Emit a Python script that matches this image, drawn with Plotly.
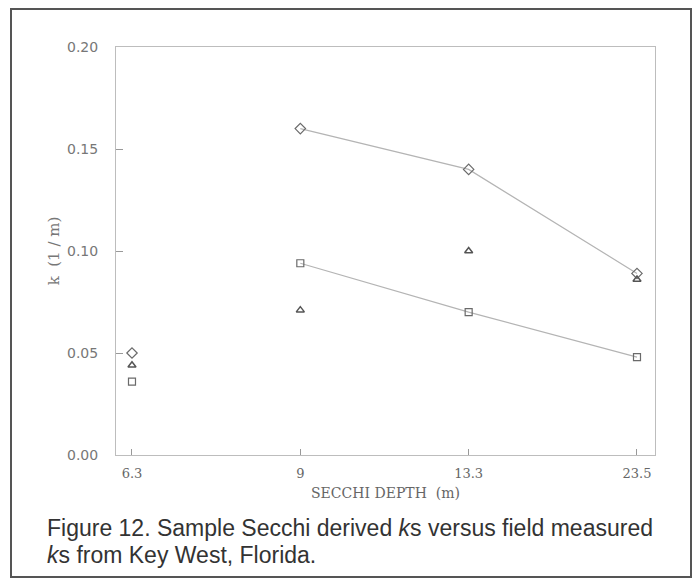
import plotly.graph_objects as go

categories = ["6.3", "9", "13.3", "23.5"]
k_diamond = [0.050, 0.160, 0.140, 0.089]
k_square = [0.036, 0.094, 0.070, 0.048]
k_triangle = [0.044, 0.071, 0.100, 0.086]
y_ticks = [0.00, 0.05, 0.10, 0.15, 0.20]

W, H = 698, 579
L, R, T, B = 116, 43, 47, 124
PW, PH = W - L - R, H - T - B

def px_x(x):
    return (x - L) / PW

def px_y(y):
    return (H - B - y) / PH

MCOL = "#6a6a6a"
LCOL = "#b4b4b4"
SERIF = "DejaVu Serif, Liberation Serif, serif"

fig = go.Figure()
# connecting lines (series lines start at 9 m)
fig.add_trace(go.Scatter(x=categories[1:], y=k_diamond[1:], mode="lines",
                         line=dict(color=LCOL, width=1.2), showlegend=False, hoverinfo="skip"))
fig.add_trace(go.Scatter(x=categories[1:], y=k_square[1:], mode="lines",
                         line=dict(color=LCOL, width=1.2), showlegend=False, hoverinfo="skip"))
# markers
fig.add_trace(go.Scatter(x=categories, y=k_diamond, mode="markers", name="diamond",
                         marker=dict(symbol="diamond-open", size=8, color=MCOL, line=dict(width=1.2, color=MCOL))))
fig.add_trace(go.Scatter(x=categories, y=k_square, mode="markers", name="square",
                         marker=dict(symbol="square-open", size=7, color=MCOL, line=dict(width=1.2, color=MCOL))))
fig.add_trace(go.Scatter(x=categories, y=k_triangle, mode="markers", name="triangle",
                         marker=dict(symbol="triangle-up-open", size=7, color="#555", line=dict(width=1.5, color="#555"))))

fig.update_layout(
    width=W, height=H,
    margin=dict(l=L, r=R, t=T, b=B),
    paper_bgcolor="white", plot_bgcolor="white",
    showlegend=False,
    xaxis=dict(
        type="category", categoryorder="array", categoryarray=categories,
        range=[-0.095, 3.107],
        showgrid=False, zeroline=False,
        showline=True, linecolor="#bdbdbd", linewidth=1, mirror=True,
        ticks="inside", ticklen=6, tickcolor="#999", tickwidth=1,
        ticklabelstandoff=6,
        tickfont=dict(family=SERIF, size=13, color="#666"),
        title=dict(text="SECCHI DEPTH&nbsp;&nbsp;(m)", standoff=8,
                   font=dict(family=SERIF, size=14, color="#666")),
    ),
    yaxis=dict(
        range=[0, 0.20], tickvals=y_ticks, tickformat=".2f",
        showgrid=False, zeroline=False,
        showline=True, linecolor="#bdbdbd", linewidth=1, mirror=True,
        ticks="inside", ticklen=7, tickcolor="#999", tickwidth=1,
        ticklabelstandoff=14,
        tickfont=dict(family="DejaVu Sans, Liberation Sans, sans-serif", size=14, color="#777"),
        title=dict(text="k&nbsp;&nbsp;(1&nbsp;/&nbsp;m)", standoff=3,
                   font=dict(family=SERIF, size=15, color="#777")),
    ),
)

# caption
cap_font = dict(family="Liberation Sans, Arial, Helvetica, sans-serif", size=23, color="#333")
fig.add_annotation(xref="paper", yref="paper", x=px_x(45), y=px_y(528), xanchor="left", yanchor="middle",
                   text="Figure 12. Sample Secchi derived <i>k</i>s versus field measured",
                   showarrow=False, font=cap_font)
fig.add_annotation(xref="paper", yref="paper", x=px_x(45), y=px_y(555), xanchor="left", yanchor="middle",
                   text="<i>k</i>s from Key West, Florida.",
                   showarrow=False, font=cap_font)

# outer frame
fig.add_shape(type="rect", xref="paper", yref="paper",
              x0=px_x(11), x1=px_x(691), y0=px_y(577), y1=px_y(9),
              line=dict(color="#555", width=2), fillcolor="rgba(0,0,0,0)", layer="below")

fig.write_html("out.html", config={"displayModeBar": False},
               post_script="document.body.style.margin='0';document.body.style.overflow='hidden';")
